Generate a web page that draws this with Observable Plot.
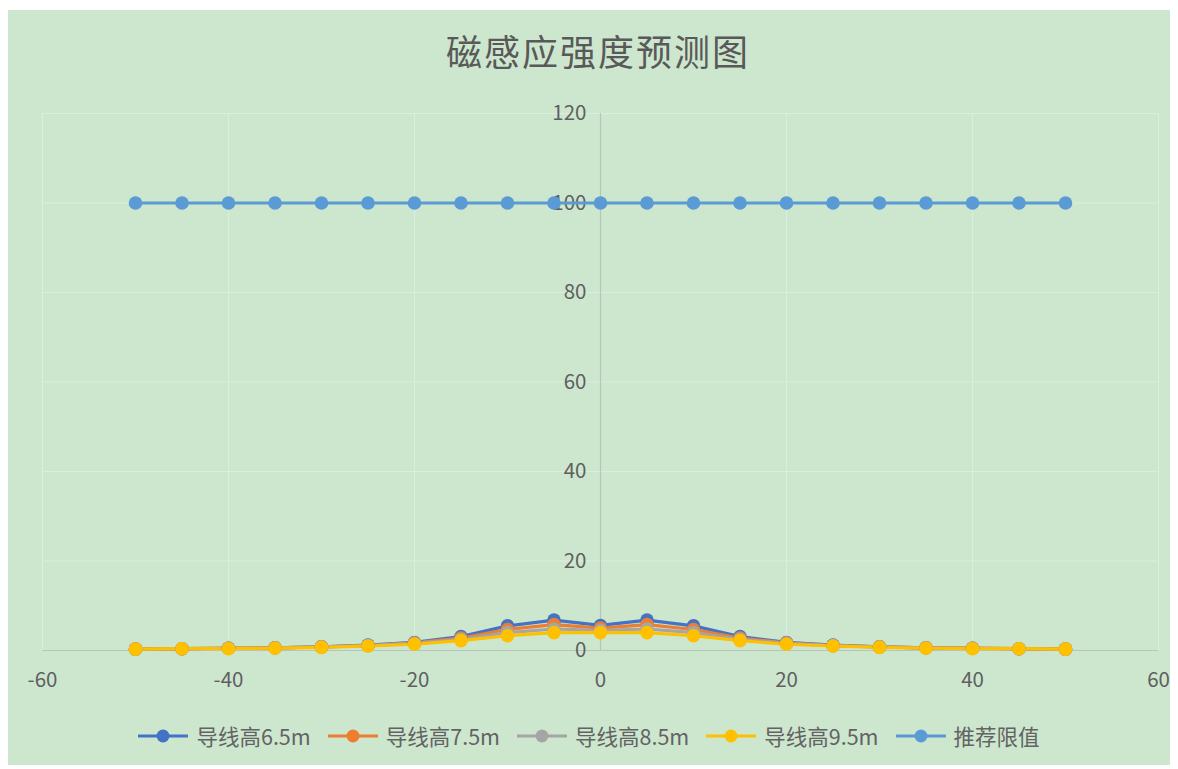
<!DOCTYPE html>
<html>
<head>
<meta charset="utf-8">
<script src="https://cdn.jsdelivr.net/npm/d3@7"></script>
<script src="https://cdn.jsdelivr.net/npm/@observablehq/plot@0.6"></script>
<style>
  html, body { margin: 0; padding: 0; background: #ffffff; }
  body { width: 1178px; height: 769px; position: relative; overflow: hidden; font-family: "Noto Sans CJK SC", "Noto Sans", sans-serif; }
  #chart { position: absolute; left: 8px; top: 10px; width: 1162px; height: 755px; background: #cde7cf; }
  #title { position: absolute; left: 9px; width: 1178px; top: 24px; text-align: center; font-size: 36px; color: #595959; letter-spacing: 2px; }
  #plot { position: absolute; left: 0; top: 0; }
  #legend { position: absolute; left: 0; width: 1178px; top: 720px; display: flex; justify-content: center; align-items: center; gap: 17px; font-size: 21.5px; color: #636363; }
  .item { display: flex; align-items: center; gap: 8px; }
</style>
</head>
<body>
<div id="chart"></div>
<div id="plot"></div>
<div id="title">磁感应强度预测图</div>
<div id="legend"></div>
<script>
const distance = [-50,-45,-40,-35,-30,-25,-20,-15,-10,-5,0,5,10,15,20,25,30,35,40,45,50];
const h65 = [0.3,0.4,0.5,0.6,0.8,1.2,1.8,3.1,5.5,6.8,5.6,6.8,5.5,3.1,1.8,1.2,0.8,0.6,0.5,0.4,0.3];
const h75 = [0.3,0.4,0.5,0.6,0.8,1.1,1.7,2.8,4.7,5.8,5.0,5.8,4.7,2.8,1.7,1.1,0.8,0.6,0.5,0.4,0.3];
const h85 = [0.3,0.4,0.5,0.6,0.8,1.1,1.6,2.5,4.0,4.8,4.5,4.8,4.0,2.5,1.6,1.1,0.8,0.6,0.5,0.4,0.3];
const h95 = [0.3,0.4,0.4,0.5,0.7,1.0,1.4,2.2,3.3,4.0,4.0,4.0,3.3,2.2,1.4,1.0,0.7,0.5,0.4,0.4,0.3];
const limit = [100,100,100,100,100,100,100,100,100,100,100,100,100,100,100,100,100,100,100,100,100];
const seriesNames = ["导线高6.5m","导线高7.5m","导线高8.5m","导线高9.5m","推荐限值"];
const seriesColors = ["#4472c4","#ed7d31","#a5a5a5","#ffc000","#5b9bd5"];
const xTicks = [-60,-40,-20,0,20,40,60];
const yTicks = [0,20,40,60,80,100,120];

const allValues = [h65,h75,h85,h95,limit];
const data = [];
allValues.forEach((vals, si) => vals.forEach((v, i) => data.push({x: distance[i], y: v, s: seriesNames[si]})));

const font = '"Noto Sans CJK SC", "Noto Sans", sans-serif';
const plot = Plot.plot({
  width: 1178,
  height: 700,
  marginLeft: 42,
  marginRight: 20,
  marginTop: 113,
  marginBottom: 50,
  x: {domain: [-60, 60], axis: null},
  y: {domain: [0, 120], axis: null},
  color: {domain: seriesNames, range: seriesColors},
  style: {background: "transparent", fontFamily: font},
  marks: [
    Plot.ruleX(xTicks.filter(d => d !== 0), {stroke: "#e3f0e3", strokeOpacity: 0.7}),
    Plot.ruleY(yTicks.filter(d => d !== 0), {stroke: "#e3f0e3", strokeOpacity: 0.7}),
    Plot.ruleY([0], {stroke: "#b7c4b7", strokeWidth: 1.2}),
    Plot.ruleX([0], {stroke: "#b7c4b7", strokeWidth: 1.2}),
    Plot.text(yTicks, {x: 0, y: d => d, text: d => String(d), dx: -14, textAnchor: "end", fontSize: 20.5, fill: "#5f5f5f"}),
    Plot.text(xTicks, {x: d => d, y: 0, text: d => String(d), dy: 30, fontSize: 20.5, fill: "#5f5f5f"}),
    ...seriesNames.map(name => Plot.line(data.filter(d => d.s === name), {x: "x", y: "y", stroke: "s", strokeWidth: 3.2})),
    ...seriesNames.map(name => Plot.dot(data.filter(d => d.s === name), {x: "x", y: "y", fill: "s", r: 6.8}))
  ]
});
document.getElementById("plot").appendChild(plot);

const legend = document.getElementById("legend");
seriesNames.forEach((name, i) => {
  const item = document.createElement("div");
  item.className = "item";
  item.innerHTML = `<svg width="50" height="16"><line x1="0" y1="8" x2="50" y2="8" stroke="${seriesColors[i]}" stroke-width="3.2"/><circle cx="25" cy="8" r="6.5" fill="${seriesColors[i]}"/></svg><span>${name}</span>`;
  legend.appendChild(item);
});
</script>
</body>
</html>
